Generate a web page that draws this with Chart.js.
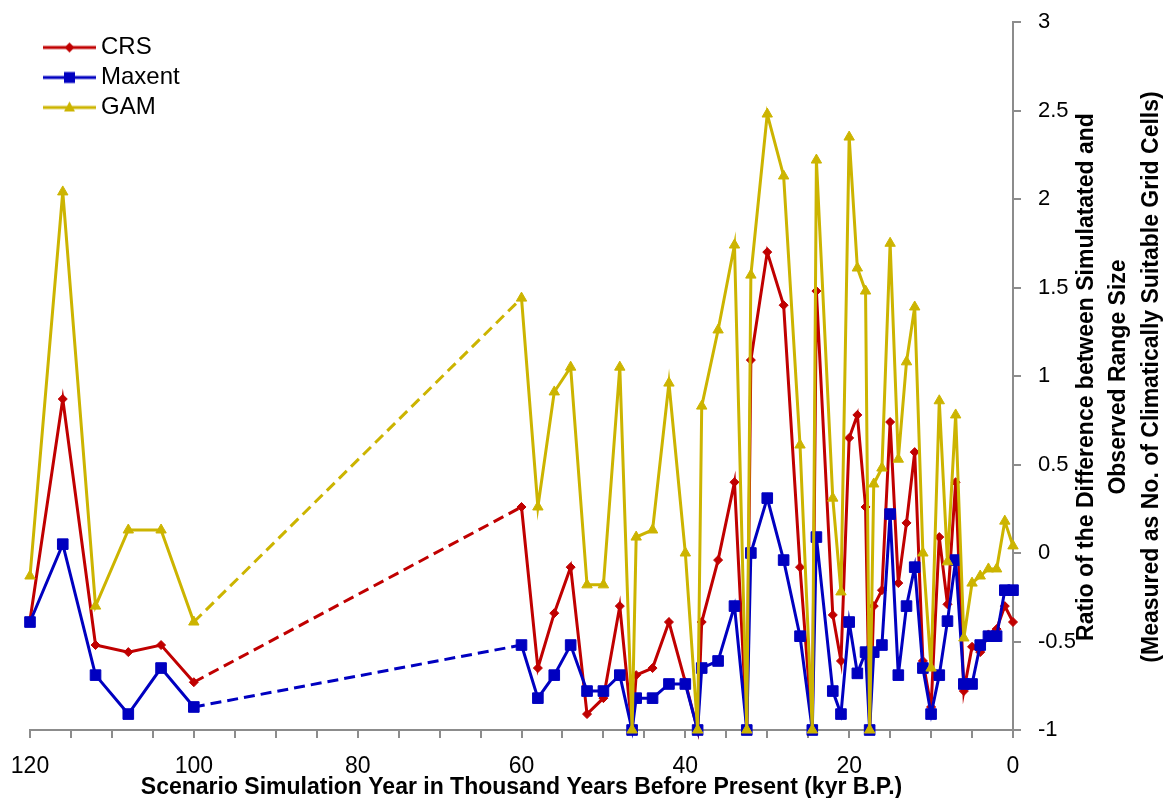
<!DOCTYPE html>
<html>
<head>
<meta charset="utf-8">
<script src="https://cdn.jsdelivr.net/npm/chart.js@4.4.1/dist/chart.umd.min.js"></script>
<style>
  html, body { margin: 0; padding: 0; background: #fff; }
  #wrap { width: 1170px; height: 798px; }
</style>
</head>
<body>
<div id="wrap"><canvas id="rangeChart" width="1170" height="798"></canvas></div>
<script>
// time slices (kyr B.P.) and ratio values
const kyrBP = [
  120, 116, 112, 108, 104, 100,
  60, 58, 56, 54, 52, 50, 48,
  46.5, 46, 44, 42, 40,
  38.5, 38, 36, 34,
  32.5, 32, 30, 28, 26,
  24.5, 24, 22, 21, 20, 19, 18,
  17.5, 17, 16, 15, 14, 13, 12, 11, 10, 9, 8, 7, 6, 5, 4, 3, 2, 1, 0
];
const crsRatio = [
  -0.38, 0.87, -0.52, -0.56, -0.52, -0.73,
  0.26, -0.65, -0.34, -0.08, -0.91, -0.82, -0.30,
  -1, -0.69, -0.65, -0.39, -0.73,
  -1, -0.39, -0.04, 0.40,
  -1, 1.09, 1.70, 1.40, -0.08,
  -1, 1.48, -0.35, -0.61, 0.65, 0.78, 0.26,
  -1, -0.30, -0.21, 0.74, -0.17, 0.17, 0.57, -0.61, -0.87, 0.09, -0.29, 0.40, -0.78, -0.53, -0.56, -0.46, -0.43, -0.30, -0.39
];
const maxentRatio = [
  -0.39, 0.05, -0.69, -0.91, -0.65, -0.87,
  -0.52, -0.82, -0.69, -0.52, -0.78, -0.78, -0.69,
  -1, -0.82, -0.82, -0.74, -0.74,
  -1, -0.65, -0.61, -0.30,
  -1, 0.0, 0.31, -0.04, -0.47,
  -1, 0.09, -0.78, -0.91, -0.39, -0.68, -0.56,
  -1, -0.56, -0.52, 0.22, -0.69, -0.30, -0.08, -0.65, -0.91, -0.69, -0.385, -0.04, -0.74, -0.74, -0.52, -0.47, -0.47, -0.21, -0.21
];
const gamRatio = [
  -0.13, 2.04, -0.30, 0.13, 0.13, -0.39,
  1.44, 0.26, 0.91, 1.05, -0.18, -0.18, 1.05,
  -1, 0.09, 0.13, 0.96, 0.0,
  -1, 0.83, 1.26, 1.74,
  -1, 1.57, 2.48, 2.13, 0.61,
  -1, 2.22, 0.31, -0.22, 2.35, 1.61, 1.48,
  -1, 0.39, 0.48, 1.75, 0.53, 1.08, 1.39, 0.0, -0.65, 0.86, -0.05, 0.78, -0.48, -0.17, -0.13, -0.09, -0.09, 0.18, 0.04
];
const xTickLabels = [120, 100, 80, 60, 40, 20, 0];
const seriesNames = ["CRS", "Maxent", "GAM"];
const seriesColors = ["#C00000", "#0000C0", "#CCB400"];

const labelFont = "'Liberation Sans', Arial, sans-serif";

function toPoints(ys) {
  return kyrBP.map((x, i) => ({ x: x, y: ys[i] }));
}

// dashed where the record has the 100 -> 60 kyr gap
const gapDash = ctx => Math.abs(ctx.p0.parsed.x - ctx.p1.parsed.x) > 10 ? [11, 6] : undefined;

// little line+marker swatch for the legend
function swatch(color, shape) {
  const c = document.createElement("canvas");
  c.width = 67; c.height = 20;
  const g = c.getContext("2d");
  g.strokeStyle = color; g.fillStyle = color; g.lineWidth = 3;
  g.beginPath(); g.moveTo(14, 10); g.lineTo(67, 10); g.stroke();
  const cx = 40.5, cy = 10;
  g.beginPath();
  if (shape === "rectRot") {
    g.moveTo(cx, cy - 5); g.lineTo(cx + 5, cy); g.lineTo(cx, cy + 5); g.lineTo(cx - 5, cy);
  } else if (shape === "rect") {
    g.rect(cx - 5.5, cy - 5.5, 11, 11);
  } else {
    g.moveTo(cx, cy - 6); g.lineTo(cx + 5.5, cy + 4); g.lineTo(cx - 5.5, cy + 4);
  }
  g.closePath(); g.fill();
  return c;
}
const shapes = ["rectRot", "rect", "triangle"];
const swatches = shapes.map((s, i) => swatch(seriesColors[i], s));

const rightAxisTitle = {
  id: "rightAxisTitle",
  afterDraw(chart) {
    const { ctx, chartArea } = chart;
    const lines = [
      "Ratio of the Difference between Simulatated and",
      "Observed Range Size",
      "(Measured as No. of Climatically Suitable Grid Cells)"
    ];
    const xs = [1087, 1119, 1152];
    const cy = (chartArea.top + chartArea.bottom) / 2 + 1;
    ctx.save();
    ctx.fillStyle = "#000";
    ctx.font = "bold 23px " + labelFont;
    ctx.textAlign = "center";
    ctx.textBaseline = "middle";
    lines.forEach((t, i) => {
      ctx.save();
      ctx.translate(xs[i], cy);
      ctx.rotate(-Math.PI / 2);
      ctx.fillText(t, 0, 0);
      ctx.restore();
    });
    ctx.restore();
  }
};

const rangeChart = new Chart(document.getElementById("rangeChart"), {
  type: "line",
  data: {
    datasets: [
      {
        label: seriesNames[0], data: toPoints(crsRatio), order: 2,
        borderColor: seriesColors[0], backgroundColor: seriesColors[0],
        borderWidth: 3, pointStyle: "rectRot", pointRadius: 4.5, pointBorderWidth: 1,
        segment: { borderDash: gapDash }
      },
      {
        label: seriesNames[1], data: toPoints(maxentRatio), order: 1,
        borderColor: seriesColors[1], backgroundColor: seriesColors[1],
        borderWidth: 3, pointStyle: "rect", pointRadius: 7.5, pointBorderWidth: 1,
        segment: { borderDash: gapDash }
      },
      {
        label: seriesNames[2], data: toPoints(gamRatio), order: 0,
        borderColor: seriesColors[2], backgroundColor: seriesColors[2],
        borderWidth: 3, pointStyle: "triangle", pointRadius: 6, pointBorderWidth: 1,
        segment: { borderDash: gapDash }
      }
    ]
  },
  options: {
    responsive: false,
    animation: false,
    devicePixelRatio: 1,
    clip: false,
    layout: { padding: { left: 30, top: 22, right: 0, bottom: 0 } },
    plugins: {
      tooltip: { enabled: false },
      legend: {
        position: "chartArea",
        align: "start",
        title: { display: true, text: "", font: { size: 5, lineHeight: 1.1 }, padding: { top: 24, bottom: 0 } },
        labels: {
          usePointStyle: true,
          pointStyleWidth: 53,
          padding: 6,
          color: "#000",
          font: { family: labelFont, size: 24 },
          generateLabels: () => seriesNames.map((name, i) => ({
            text: name, pointStyle: swatches[i], datasetIndex: i, fontColor: "#000",
            fillStyle: seriesColors[i], strokeStyle: seriesColors[i], lineWidth: 0, hidden: false
          }))
        }
      }
    },
    scales: {
      x: {
        type: "linear",
        reverse: true,
        min: 0, max: 120,
        afterFit: s => { s.height = 68; s.paddingLeft = 0; s.paddingRight = 0; },
        border: { display: true, color: "#8c8c8c", width: 2 },
        grid: { drawOnChartArea: false, drawTicks: true, tickLength: 8, color: "#8c8c8c", lineWidth: 2 },
        ticks: {
          stepSize: 5, autoSkip: false, maxRotation: 0, padding: 15,
          color: "#000", font: { family: labelFont, size: 23 },
          callback: v => xTickLabels.includes(v) ? String(v) : ""
        },
        title: {
          display: true,
          text: "Scenario Simulation Year in Thousand Years Before Present (kyr B.P.)",
          color: "#000",
          font: { family: labelFont, size: 23, weight: "bold", lineHeight: 0.9 },
          padding: { top: 0, bottom: 0 }
        }
      },
      y: {
        type: "linear",
        position: "right",
        min: -1, max: 3,
        afterFit: s => { s.width = 157; s.paddingTop = 0; s.paddingBottom = 0; },
        border: { display: true, color: "#8c8c8c", width: 2 },
        grid: { drawOnChartArea: false, drawTicks: true, tickLength: 8, color: "#8c8c8c", lineWidth: 2 },
        ticks: {
          stepSize: 0.5, padding: 17,
          color: "#000", font: { family: labelFont, size: 22 },
          callback: v => String(Math.round(v * 10) / 10)
        }
      }
    }
  },
  plugins: [rightAxisTitle]
});
</script>
</body>
</html>
